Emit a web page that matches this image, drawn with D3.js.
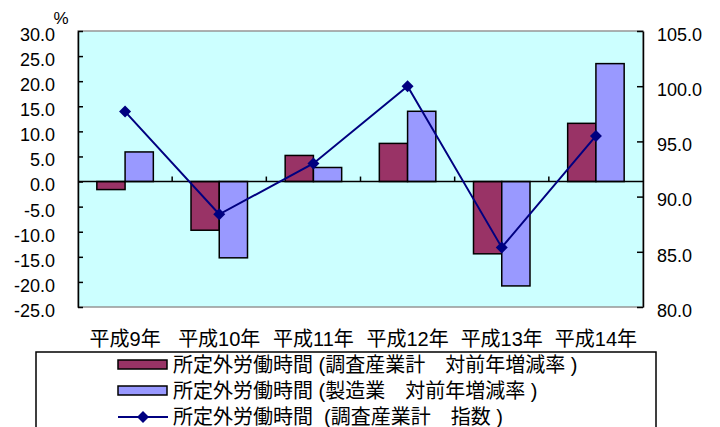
<!DOCTYPE html>
<html><head><meta charset="utf-8">
<script src="https://cdn.jsdelivr.net/npm/d3@7"></script>
<style>
body{margin:0;background:#fff;}
text{font-family:"Liberation Sans","Noto Sans CJK JP",sans-serif;fill:#000;white-space:pre;}
</style></head>
<body><svg id="c" width="720" height="427"></svg>
<script>
const categories = ["平成9年","平成10年","平成11年","平成12年","平成13年","平成14年"];
const seriesNames = ["所定外労働時間 (調査産業計　対前年増減率 )","所定外労働時間 (製造業　対前年増減率 )","所定外労働時間\u00a0\u00a0(調査産業計　指数 )"];
const allIndustryRate = [-1.6,-9.7,5.2,7.6,-14.4,11.6];
const manufacturingRate = [5.9,-15.2,2.8,14.0,-20.8,23.5];
const allIndustryIndex = [97.7,88.4,93.0,100.0,85.4,95.5];
const leftTicks = [30,25,20,15,10,5,0,-5,-10,-15,-20,-25];
const rightTicks = [105,100,95,90,85,80];

const svg = d3.select("#c");
const L=78,R=643,T=31,B=307;
const x0 = d3.scaleBand().domain(categories).range([L,R]).paddingInner(0.4).paddingOuter(0.2);
const x1 = d3.scaleBand().domain([0,1]).range([0,x0.bandwidth()]);
const yL = d3.scaleLinear().domain([-25,30]).range([B,T]);
const yR = d3.scaleLinear().domain([80,105]).range([B,T]);
const colors = ["#993366","#9999FF"];

// plot area
svg.append("rect").attr("x",L).attr("y",T).attr("width",R-L).attr("height",B-T)
  .attr("fill","#CCFFFF").attr("stroke","#969696").attr("stroke-width",1.5);

// bars
const barData = [allIndustryRate, manufacturingRate];
barData.forEach((vals,si)=>{
  svg.append("g").selectAll("rect").data(vals).join("rect")
    .attr("x",(d,i)=>x0(categories[i])+x1(si))
    .attr("width",x1.bandwidth())
    .attr("y",d=>yL(Math.max(0,d)))
    .attr("height",d=>Math.abs(yL(d)-yL(0)))
    .attr("fill",colors[si]).attr("stroke","#000").attr("stroke-width",1.5);
});

// zero axis line with category ticks
const y0 = yL(0);
svg.append("line").attr("x1",L).attr("x2",R).attr("y1",y0).attr("y2",y0).attr("stroke","#000").attr("stroke-width",1.5);
const step = x0.step();
const bounds = categories.slice(1).map(c=>x0(c)-step*x0.paddingInner()/2);
svg.append("g").selectAll("line").data(bounds).join("line")
  .attr("x1",d=>d).attr("x2",d=>d).attr("y1",y0-5).attr("y2",y0).attr("stroke","#000").attr("stroke-width",1.5);

// line series
const cx = i=>x0(categories[i])+x0.bandwidth()/2;
const line = d3.line().x((d,i)=>cx(i)).y(d=>yR(d));
svg.append("path").datum(allIndustryIndex).attr("d",line).attr("fill","none").attr("stroke","#000080").attr("stroke-width",2);
svg.append("g").selectAll("path").data(allIndustryIndex).join("path")
  .attr("d",d3.symbol(d3.symbolSquare,72))
  .attr("transform",(d,i)=>`translate(${cx(i)},${yR(d)}) rotate(45)`)
  .attr("fill","#000080");

// axes
const fmt = v=>d3.format(".1f")(v).replace("−","-");
const gL = svg.append("g").attr("transform",`translate(${L},0)`)
  .call(d3.axisLeft(yL).tickValues(leftTicks).tickFormat(fmt).tickSizeInner(-5).tickSizeOuter(0).tickPadding(23));
const gR = svg.append("g").attr("transform",`translate(${R},0)`)
  .call(d3.axisRight(yR).tickValues(rightTicks).tickFormat(fmt).tickSizeInner(-6).tickSizeOuter(0).tickPadding(14));
[gL,gR].forEach(g=>{
  g.select(".domain").attr("stroke","#000").attr("stroke-width",1.5);
  g.selectAll(".tick line").attr("stroke","#000").attr("stroke-width",1.5);
  g.selectAll(".tick text").attr("font-size",18).attr("font-family","Liberation Sans, sans-serif").attr("dy","0.52em").attr("fill","#000");
});
svg.append("text").attr("x",61).attr("y",24).attr("text-anchor","middle").attr("font-size",17).text("%");

// category labels
svg.append("g").selectAll("text").data(categories).join("text")
  .attr("x",(d,i)=>cx(i)).attr("y",346).attr("text-anchor","middle").attr("font-size",20).text(d=>d);

// legend
svg.append("rect").attr("x",36).attr("y",352).attr("width",620).attr("height",90)
  .attr("fill","#fff").attr("stroke","#000").attr("stroke-width",1.5);
const rows=[365,391,417];
[0,1].forEach(i=>{
  svg.append("rect").attr("x",118).attr("y",rows[i]-5).attr("width",49).attr("height",9)
    .attr("fill",colors[i]).attr("stroke","#000").attr("stroke-width",1.5);
});
svg.append("line").attr("x1",118).attr("x2",168).attr("y1",rows[2]).attr("y2",rows[2]).attr("stroke","#000080").attr("stroke-width",2);
svg.append("path").attr("d",d3.symbol(d3.symbolSquare,72)).attr("transform",`translate(143,${rows[2]}) rotate(45)`).attr("fill","#000080");
svg.append("g").selectAll("text").data(seriesNames).join("text")
  .attr("x",173).attr("y",(d,i)=>rows[i]+7).attr("font-size",20).text(d=>d);
</script></body></html>
